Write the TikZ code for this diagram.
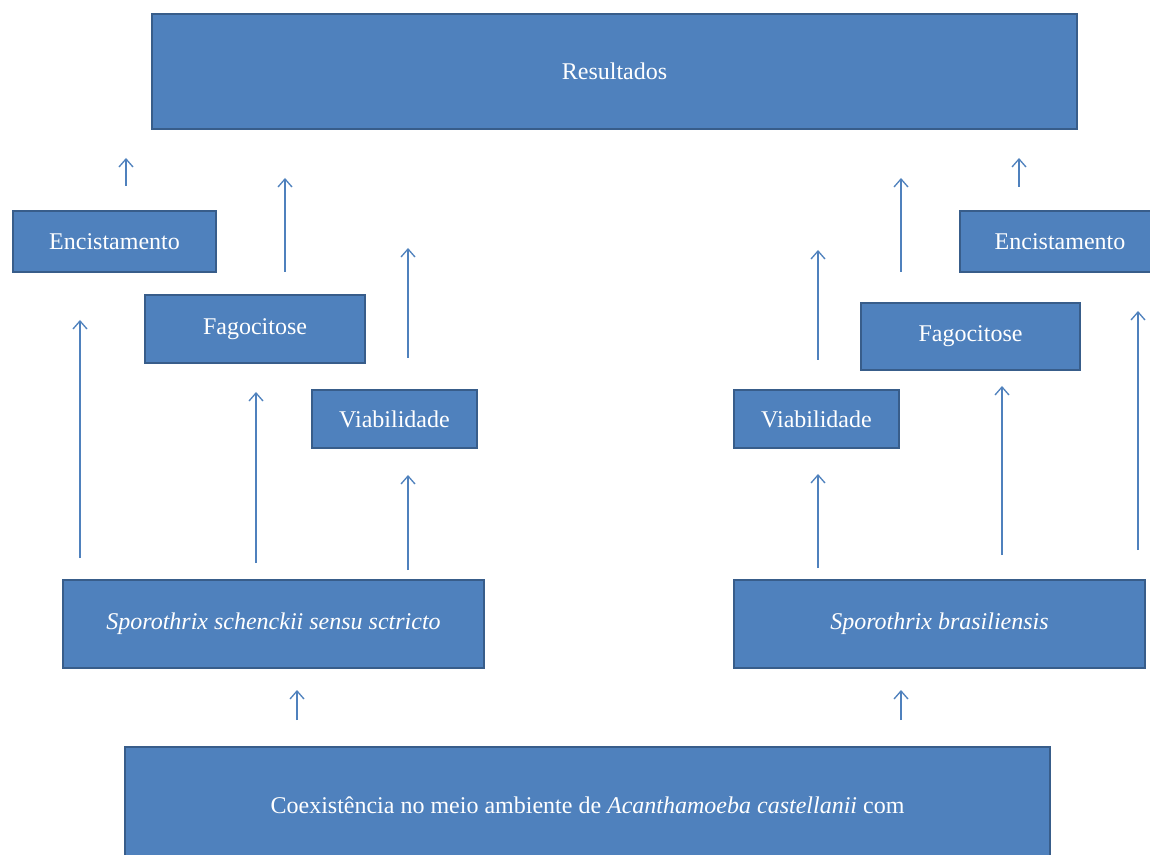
\documentclass[tikz,border=0pt]{standalone}
\usepackage{fontspec}
\setmainfont{Liberation Serif}
\usetikzlibrary{arrows.meta}
\definecolor{azul}{RGB}{79,129,189}
\definecolor{azulborda}{RGB}{56,93,138}
\tikzset{
  caixa/.style 2 args={draw=azulborda, line width=1.5pt, fill=azul, text=white,
    font=\fontsize{18}{21}\selectfont, inner sep=0pt,
    minimum width=#1*0.75pt, minimum height=#2*0.75pt},
  seta/.style={azul, line width=1pt, -{Straight Barb[length=6pt,width=10.5pt]}},
}
\begin{document}
\begin{tikzpicture}[x=0.75pt, y=-0.75pt]
  \clip (0,0) rectangle (1150,855);
  % Caixas
  \node[caixa={925}{115}] (res) at (614.5,71.5) {Resultados};
  \node[caixa={203}{61}] (encE) at (114.5,241.5) {Encistamento};
  \node[caixa={220}{68}] (fagE) at (255,329) {Fagocitose};
  \node[caixa={165}{58}] (viaE) at (394.5,419) {Viabilidade};
  \node[caixa={421}{88}] (sch) at (273.5,624) {\textit{Sporothrix schenckii sensu sctricto}};
  \node[caixa={411}{88}] (bra) at (939.5,624) {\textit{Sporothrix brasiliensis}};
  \node[caixa={165}{58}] (viaD) at (816.5,419) {Viabilidade};
  \node[caixa={219}{67}] (fagD) at (970.5,336.5) {Fagocitose};
  \node[caixa={200}{61}] (encD) at (1060,241.5) {Encistamento};
  \node[caixa={925}{116}] (coex) at (587.5,805)
    {Coexistência no meio ambiente de \textit{Acanthamoeba castellanii} com};

  % Setas
  \foreach \n/\x/\ya/\yb in {1/126/186/158, 2/285/272/178, 3/408/358/248,
      4/80/558/320, 5/256/563/392, 6/408/570/475, 7/297/720/690,
      8/1019/187/158, 9/901/272/178, 10/818/360/250, 11/1138/550/311,
      12/1002/555/386, 13/818/568/474, 14/901/720/690} {
    \coordinate (s\n) at (\x,\ya);
    \coordinate (e\n) at (\x,\yb);
    \draw[seta] (s\n) -- (e\n);
  }
\end{tikzpicture}
\end{document}
